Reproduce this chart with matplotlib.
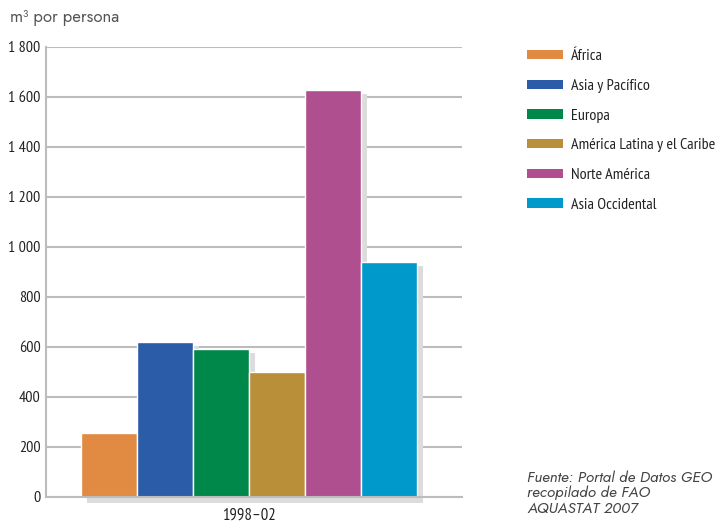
import matplotlib
matplotlib.use('Agg')
import matplotlib.pyplot as plt
from matplotlib.patches import Patch
import numpy as np

# data
regions = ['África', 'Asia y Pacífico', 'Europa', 'América Latina y el Caribe',
           'Norte América', 'Asia Occidental']
values = [255, 620, 592, 500, 1628, 940]
colors = ['#e08a42', '#2b5ca8', '#00874a', '#b98f3a', '#b04f8f', '#0099cc']
period = '1998–02'
yticks = [0, 200, 400, 600, 800, 1000, 1200, 1400, 1600, 1800]

narrow = ['PT Sans Narrow', 'DejaVu Sans']
light = ['Jost', 'DejaVu Sans']

fig = plt.figure(figsize=(7.16, 5.26), dpi=100)
ax = fig.add_axes([46 / 716, 1 - 497 / 526, 416 / 716, 450 / 526])

x = np.arange(len(values))
# drop shadows behind each bar
ax.bar(x + 0.11, np.array(values) - 16 + 22, bottom=-22, width=1, align='edge',
       color='#dcdcdd', zorder=1, clip_on=False)
ax.bar(x, values, width=1, align='edge', color=colors, edgecolor='white',
       linewidth=1, zorder=2)

ax.set_xlim(-0.625, 6.8)
ax.set_ylim(0, 1800)
ax.set_yticks(yticks)
ax.set_yticklabels(['{:,}'.format(v).replace(',', ' ') for v in yticks],
                   family=narrow, fontsize=11.5, color='#222222')
ax.set_xticks([3])
ax.set_xticklabels([period], family=narrow, fontsize=12, color='#222222')
ax.tick_params(axis='both', length=0)
ax.tick_params(axis='y', pad=4)
ax.tick_params(axis='x', pad=8)
ax.grid(axis='y', color='#bcbcbf', linewidth=1.5, zorder=0)
ax.set_axisbelow(True)
for s in ['top', 'right']:
    ax.spines[s].set_visible(False)
for s in ['left', 'bottom']:
    ax.spines[s].set_color('#bcbcbf')
    ax.spines[s].set_linewidth(1.5)

handles = [Patch(facecolor=c, edgecolor='none') for c in colors]
fig.legend(handles, regions, loc='upper left', bbox_to_anchor=(513 / 716, 1 - 35 / 526),
           frameon=False, prop={'family': narrow, 'size': 11.5},
           handlelength=2.2, handleheight=0.5, handletextpad=0.55, labelspacing=0.98,
           labelcolor='#222222')

fig.text(10 / 716, 1 - 17 / 526, 'm³ por persona', family=light, fontsize=12,
         color='#555555', va='center', ha='left')
fig.text(527 / 716, 1 - 470 / 526, 'Fuente: Portal de Datos GEO\nrecopilado de FAO\nAQUASTAT 2007',
         family=light, style='italic', fontsize=11, color='#444444', va='top',
         ha='left', linespacing=1.12)

fig.savefig('out.png', dpi=100)
